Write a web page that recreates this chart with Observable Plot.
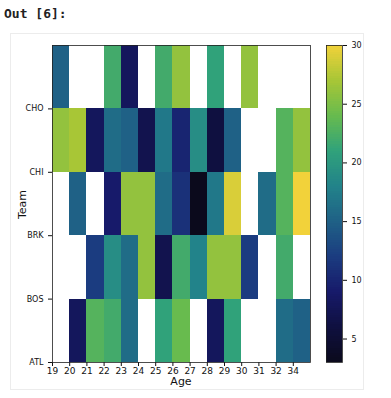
<!DOCTYPE html>
<html>
<head>
<meta charset="utf-8">
<script src="https://cdn.jsdelivr.net/npm/d3@7"></script>
<script src="https://cdn.jsdelivr.net/npm/@observablehq/plot@0.6"></script>
<style>
  html, body { margin: 0; padding: 0; background: #fff; }
  #wrap { position: relative; width: 391px; height: 398px; overflow: hidden; font-family: "DejaVu Sans", sans-serif; }
  .abs { position: absolute; }
  #out { left: 4px; top: 6px; font-family: "DejaVu Sans Mono", monospace; font-weight: bold; font-size: 13px; color: #222; }
  #box { left: 10px; top: 33px; width: 352px; height: 355px; border: 1px solid #ececec; background: #fff; }
  #age { left: 160px; top: 375px; width: 42px; text-align: center; font-size: 11px; color: #111; }
  #team { left: 2px; top: 198px; font-size: 11px; color: #111; transform: rotate(-90deg); transform-origin: center; width: 40px; text-align: center; }
</style>
</head>
<body>
<div id="wrap">
  <div id="out" class="abs">Out [6]:</div>
  <div id="box" class="abs"></div>
  <div id="main" class="abs" style="left:0;top:0"></div>
  <div id="cbar" class="abs" style="left:300px;top:0"></div>
  <div id="age" class="abs">Age</div>
  <div id="team" class="abs">Team</div>
</div>
<script>
const teams = ["ATL", "BOS", "BRK", "CHI", "CHO"];
const ages = ["19","20","21","22","23","24","25","26","27","28","29","30","31","32","34"];
const ATL = [null, 8, 23, 22, 16, null, 21, 24, null, 8, 21, null, null, 16, 15];
const BOS = [null, null, 12, 19, 16, 26, 7, 22, 18, 26, 26, 12, null, 22, null];
const BRK = [null, 15, null, 9, 26, 26, 16, 11, 3, 17, 29, null, 16, 23, 30];
const CHI = [26, 27, 8, 16, 15, 7, 17, 10, 19, 6, 15, null, null, 23, 26];
const CHO = [15, null, null, 22, 8, null, 22, 26, null, 21, null, 26, null, null, null];
const colorbarTicks = [5, 10, 15, 20, 25, 30];

const rows = [ATL, BOS, BRK, CHI, CHO];
const cells = [];
rows.forEach((vals, r) => vals.forEach((v, c) => { if (v != null) cells.push({r, c, v}); }));

const stops = ["#0b0a1c", "#0f1040", "#171a6a", "#1b3c80", "#1f6186", "#22838a", "#30a27a", "#68bb4e", "#a8c636", "#f2d23a"];
const interp = d3.piecewise(d3.interpolateRgb, stops);
const colorOpts = {type: "linear", domain: [3, 30], interpolate: t => interp(Math.max(0, Math.min(1, t)))};

const main = Plot.plot({
  width: 318, height: 398,
  marginLeft: 52, marginRight: 8, marginTop: 45, marginBottom: 36,
  style: {fontFamily: "DejaVu Sans, sans-serif", fontSize: "8px", color: "#111", background: "transparent"},
  x: {domain: [0, 15], ticks: d3.range(15), tickFormat: i => ages[i], tickSize: 4, tickPadding: 1, label: null},
  y: {domain: [0, 5], ticks: d3.range(5), tickFormat: i => teams[i], tickSize: 4, label: null},
  color: colorOpts,
  marks: [
    Plot.rect(cells, {x1: d => d.c, x2: d => d.c + 1, y1: d => d.r, y2: d => d.r + 1, fill: "v", shapeRendering: "crispEdges"}),
    Plot.frame({stroke: "#222", strokeWidth: 0.8})
  ]
});
d3.select(main).selectAll("[aria-label='x-axis tick label'] text").style("font-size", "9px");
document.getElementById("main").appendChild(main);

const grad = d3.range(3, 30, 0.2);
const cbar = Plot.plot({
  width: 80, height: 398,
  marginLeft: 26, marginRight: 38, marginTop: 45, marginBottom: 36,
  style: {fontFamily: "DejaVu Sans, sans-serif", fontSize: "8px", color: "#111", background: "transparent"},
  x: {domain: [0, 1], axis: null},
  y: {domain: [3, 30], ticks: colorbarTicks, tickSize: 4, label: null, axis: "right"},
  color: colorOpts,
  marks: [
    Plot.rect(grad, {x1: 0, x2: 1, y1: d => d, y2: d => Math.min(30, d + 0.5), fill: d => d + 0.1, shapeRendering: "crispEdges"}),
    Plot.frame({stroke: "#222", strokeWidth: 0.8})
  ]
});
document.getElementById("cbar").appendChild(cbar);
</script>
</body>
</html>
